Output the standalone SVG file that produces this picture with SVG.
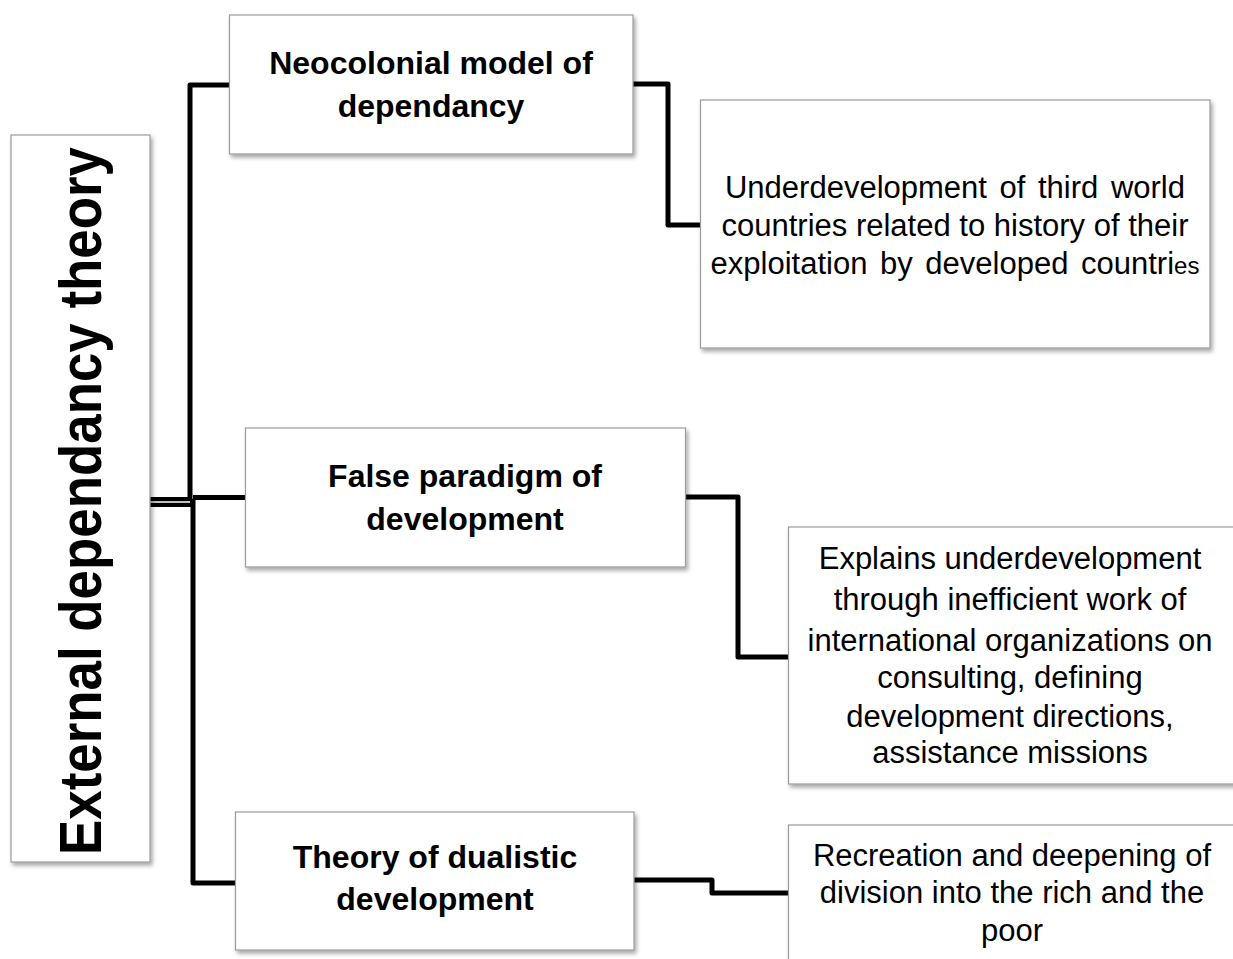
<svg xmlns="http://www.w3.org/2000/svg" width="1233" height="959" viewBox="0 0 1233 959">
<style>
.box{fill:#fff;stroke:#9a9a9a;stroke-width:1.2;filter:url(#sh)}
.b{font-family:"Liberation Sans",Arial,sans-serif;font-weight:bold;font-size:32px;fill:#000;text-anchor:middle}
.r{font-family:"Liberation Sans",Arial,sans-serif;font-size:31px;fill:#000;text-anchor:middle}
.c{fill:none;stroke:#000;stroke-width:5;stroke-linejoin:round}
</style>
<defs>
<filter id="sh" x="-5%" y="-5%" width="115%" height="115%">
<feDropShadow dx="2" dy="3" stdDeviation="2" flood-color="#000" flood-opacity="0.35"/>
</filter>
</defs>
<rect width="1233" height="959" fill="#fff"/>
<g id="connectors">
<path class="c" d="M230,85 H190 V500"/>
<path class="c" d="M193,499 V883 H235"/>
<path class="c" d="M193,497.5 H245"/>
<rect x="150" y="497" width="42" height="10" fill="#000"/>
<line x1="150" y1="502" x2="190" y2="502" stroke="#fff" stroke-width="1.5"/>
<path class="c" d="M633,84 H668 V225 H700"/>
<path class="c" d="M686,497 H738 V657 H788"/>
<path class="c" d="M634,880 H712 V893 H788"/>
</g>
<g id="root">
<rect class="box" x="11" y="135" width="139" height="727"/>
<text class="b" transform="translate(101,501) rotate(-90)" style="font-size:60px" textLength="708" lengthAdjust="spacingAndGlyphs">External dependancy theory</text>
</g>
<g id="neocolonial">
<rect class="box" x="229.5" y="15" width="403.5" height="139"/>
<text class="b" x="431" y="74">Neocolonial model of</text>
<text class="b" x="431" y="117">dependancy</text>
</g>
<g id="neocolonial-desc">
<rect class="box" x="700.5" y="100" width="509.5" height="248"/>
<text class="r" x="955" y="198" word-spacing="4">Underdevelopment of third world</text>
<text class="r" x="955" y="236">countries related to history of their</text>
<text class="r" x="955" y="274"><tspan word-spacing="4">exploitation by developed countri</tspan><tspan style="font-size:24px">es</tspan></text>
</g>
<g id="false-paradigm">
<rect class="box" x="245.5" y="428" width="440" height="139"/>
<text class="b" x="465" y="487">False paradigm of</text>
<text class="b" x="465" y="530">development</text>
</g>
<g id="false-paradigm-desc">
<rect class="box" x="788.5" y="527" width="448" height="257"/>
<text class="r" x="1010" y="569">Explains underdevelopment</text>
<text class="r" x="1010" y="610">through inefficient work of</text>
<text class="r" x="1010" y="651">international organizations on</text>
<text class="r" x="1010" y="688">consulting, defining</text>
<text class="r" x="1010" y="727">development directions,</text>
<text class="r" x="1010" y="763">assistance missions</text>
</g>
<g id="dualistic">
<rect class="box" x="235.5" y="812" width="398.5" height="138"/>
<text class="b" x="435" y="868">Theory of dualistic</text>
<text class="b" x="435" y="910">development</text>
</g>
<g id="dualistic-desc">
<rect class="box" x="788.5" y="825" width="448" height="140"/>
<text class="r" x="1012" y="866">Recreation and deepening of</text>
<text class="r" x="1012" y="903">division into the rich and the</text>
<text class="r" x="1012" y="941">poor</text>
</g>
</svg>
